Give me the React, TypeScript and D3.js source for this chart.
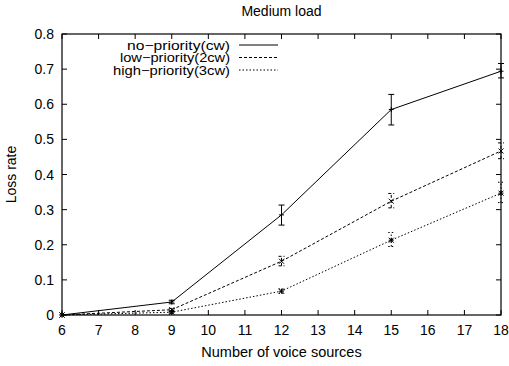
import React, { useEffect, useRef } from 'react';
import * as d3 from 'd3';

const sources = [6, 9, 12, 15, 18];

const noPriority = [0, 0.037, 0.285, 0.585, 0.694];
const noPriorityLo = [0, 0.032, 0.256, 0.541, 0.675];
const noPriorityHi = [0, 0.042, 0.313, 0.628, 0.716];

const lowPriority = [0, 0.015, 0.153, 0.324, 0.467];
const lowPriorityLo = [0, 0.011, 0.14, 0.305, 0.445];
const lowPriorityHi = [0, 0.019, 0.167, 0.346, 0.49];

const highPriority = [0, 0.008, 0.068, 0.213, 0.347];
const highPriorityLo = [0, 0.005, 0.062, 0.195, 0.32];
const highPriorityHi = [0, 0.011, 0.074, 0.235, 0.378];

const seriesNames = ['no\u2212priority(cw)', 'low\u2212priority(2cw)', 'high\u2212priority(3cw)'];
const xTicks = d3.range(6, 19);
const yTicks = [0, 0.1, 0.2, 0.3, 0.4, 0.5, 0.6, 0.7, 0.8];

export default function App() {
  const svgRef = useRef<SVGSVGElement>(null);

  useEffect(() => {
    const width = 509;
    const height = 366;
    const margin = { top: 34, right: 8, bottom: 51, left: 62 };
    const innerWidth = width - margin.left - margin.right;
    const innerHeight = height - margin.top - margin.bottom;

    const svg = d3.select(svgRef.current);
    svg.selectAll('*').remove();
    svg.attr('width', width).attr('height', height);

    const font = '"Liberation Sans", Arial, sans-serif';
    const fs = '14px';
    const chart = svg.append('g').attr('transform', `translate(${margin.left},${margin.top})`);

    const x = d3.scaleLinear().domain([6, 18]).range([0, innerWidth]);
    const y = d3.scaleLinear().domain([0, 0.8]).range([innerHeight, 0]);

    // ticks (inward, all four sides)
    const tl = 5;
    xTicks.forEach(t => {
      chart.append('line').attr('x1', x(t)).attr('x2', x(t)).attr('y1', innerHeight).attr('y2', innerHeight - tl)
        .attr('stroke', '#000');
      chart.append('line').attr('x1', x(t)).attr('x2', x(t)).attr('y1', 0).attr('y2', tl)
        .attr('stroke', '#000');
      chart.append('text').attr('x', x(t)).attr('y', innerHeight + 20)
        .attr('text-anchor', 'middle').style('font-family', font).style('font-size', fs)
        .text(t);
    });
    yTicks.forEach(t => {
      chart.append('line').attr('x1', 0).attr('x2', tl).attr('y1', y(t)).attr('y2', y(t))
        .attr('stroke', '#000');
      chart.append('line').attr('x1', innerWidth).attr('x2', innerWidth - tl).attr('y1', y(t)).attr('y2', y(t))
        .attr('stroke', '#000');
      chart.append('text').attr('x', -8).attr('y', y(t) + 5)
        .attr('text-anchor', 'end').style('font-family', font).style('font-size', fs)
        .text(t === 0 ? '0' : d3.format('.1f')(t));
    });

    const series = [
      { vals: noPriority, lo: noPriorityLo, hi: noPriorityHi, dash: null, marker: 'plus' },
      { vals: lowPriority, lo: lowPriorityLo, hi: lowPriorityHi, dash: '3,2', marker: 'cross' },
      { vals: highPriority, lo: highPriorityLo, hi: highPriorityHi, dash: '1.5,2', marker: 'star' },
    ];

    const line = d3.line<number>().x((d, i) => x(sources[i])).y(d => y(d));

    series.forEach(s => {
      const p = chart.append('path').datum(s.vals).attr('d', line)
        .attr('fill', 'none').attr('stroke', '#000').attr('stroke-width', 1);
      if (s.dash) p.attr('stroke-dasharray', s.dash);

      sources.forEach((src, i) => {
        const cx = x(src);
        const g = chart.append('g');
        if (s.hi[i] - s.lo[i] > 0) {
          const bar = g.append('path')
            .attr('d', `M${cx},${y(s.lo[i])}V${y(s.hi[i])}M${cx - 3},${y(s.lo[i])}H${cx + 3}M${cx - 3},${y(s.hi[i])}H${cx + 3}`)
            .attr('fill', 'none').attr('stroke', '#000').attr('stroke-width', 1);
          if (s.dash) bar.attr('stroke-dasharray', s.dash);
        }
        const cy = y(s.vals[i]);
        const r = 2.5;
        let d = '';
        if (s.marker === 'plus') d = `M${cx - r},${cy}H${cx + r}M${cx},${cy - r}V${cy + r}`;
        else if (s.marker === 'cross') d = `M${cx - r},${cy - r}L${cx + r},${cy + r}M${cx - r},${cy + r}L${cx + r},${cy - r}`;
        else d = `M${cx - r},${cy}H${cx + r}M${cx},${cy - r}V${cy + r}M${cx - r},${cy - r}L${cx + r},${cy + r}M${cx - r},${cy + r}L${cx + r},${cy - r}`;
        g.append('path').attr('d', d).attr('stroke', '#000').attr('stroke-width', 1).attr('fill', 'none');
      });
    });

    // frame
    chart.append('rect').attr('x', 0).attr('y', 0).attr('width', innerWidth).attr('height', innerHeight)
      .attr('fill', 'none').attr('stroke', '#000').attr('stroke-width', 1.2);

    // legend (text stretched horizontally like the original)
    const legendWidths = [103, 110, 117];
    series.forEach((s, i) => {
      const ly = 11 + i * 12.5;
      chart.append('text').attr('x', 168).attr('y', ly + 4.5).attr('text-anchor', 'end')
        .attr('textLength', legendWidths[i]).attr('lengthAdjust', 'spacingAndGlyphs')
        .style('font-family', font).style('font-size', '12.5px').text(seriesNames[i]);
      const l = chart.append('line').attr('x1', 177).attr('x2', 216).attr('y1', ly).attr('y2', ly)
        .attr('stroke', '#000').attr('stroke-width', 1);
      if (s.dash) l.attr('stroke-dasharray', s.dash);
    });

    // titles
    svg.append('text').attr('x', margin.left + innerWidth / 2).attr('y', 16)
      .attr('text-anchor', 'middle').style('font-family', font).style('font-size', fs).text('Medium load');
    svg.append('text').attr('x', margin.left + innerWidth / 2).attr('y', 357)
      .attr('text-anchor', 'middle').style('font-family', font).style('font-size', '14.5px').text('Number of voice sources');
    svg.append('text').attr('transform', `translate(16,${margin.top + innerHeight / 2}) rotate(-90)`)
      .attr('text-anchor', 'middle').style('font-family', font).style('font-size', fs).text('Loss rate');
  }, []);

  return (
    <div style={{ position: 'absolute', left: 0, top: 0 }}>
      <svg ref={svgRef} style={{ display: 'block' }}></svg>
    </div>
  );
}
